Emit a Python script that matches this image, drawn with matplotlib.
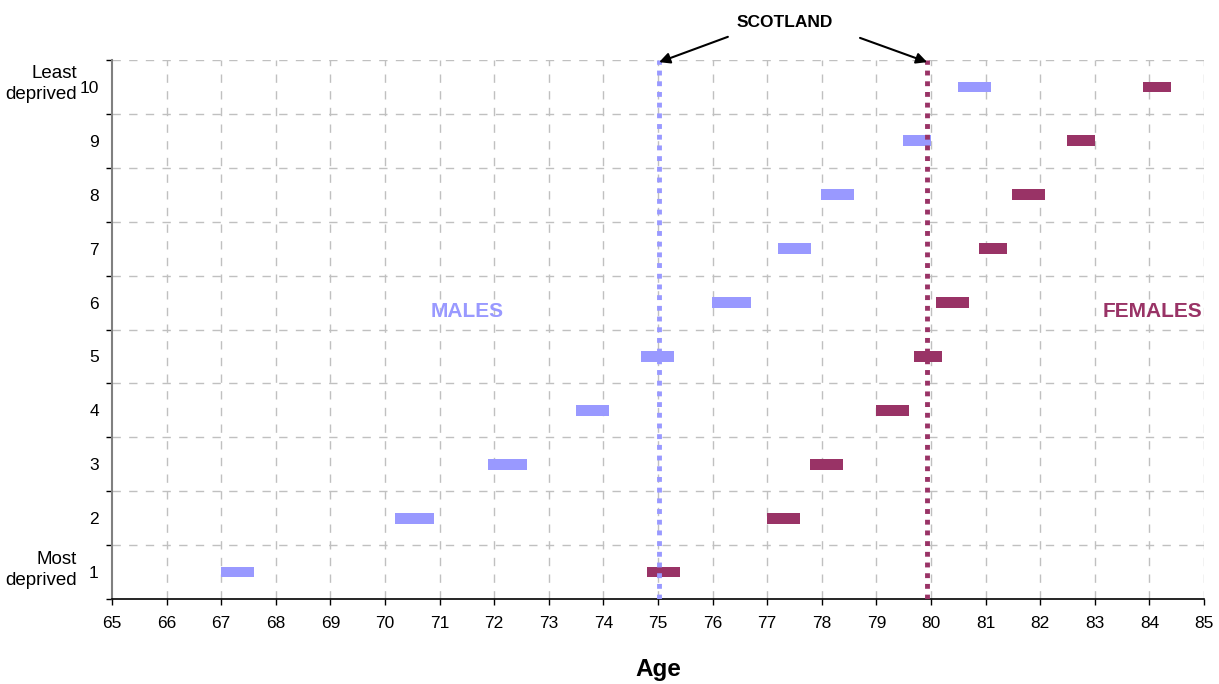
import matplotlib
matplotlib.use("Agg")
import matplotlib.pyplot as plt
from matplotlib.ticker import FixedLocator, NullFormatter, FixedFormatter

plt.rcParams['font.family'] = ['Liberation Sans', 'DejaVu Sans']

# Deprivation deciles (1 = most deprived, 10 = least deprived)
deciles = [1, 2, 3, 4, 5, 6, 7, 8, 9, 10]
decile_labels = ['1', '2', '3', '4', '5', '6', '7', '8', '9', '10']

# Life expectancy ranges (lower, upper) by decile
male_low = [67.00, 70.18, 71.89, 73.50, 74.69, 75.99, 77.20, 77.99, 79.49, 80.49]
male_high = [67.60, 70.90, 72.60, 74.10, 75.29, 76.70, 77.80, 78.59, 80.00, 81.10]
female_low = [74.80, 77.00, 77.78, 78.99, 79.69, 80.09, 80.88, 81.48, 82.49, 83.88]
female_high = [75.40, 77.60, 78.39, 79.60, 80.20, 80.70, 81.39, 82.09, 83.00, 84.40]

# National averages
scotland_male = 75.02
scotland_female = 79.93

age_ticks = list(range(65, 86))

male_color = '#9999FF'
female_color = '#993366'
grid_color = '#C0C0C0'

fig = plt.figure(figsize=(12.19, 6.84), dpi=100)
ax = fig.add_axes([112 / 1219, 85 / 684, 1092 / 1219, 539 / 684])

ax.set_xlim(65, 85)
ax.set_ylim(0.5, 10.5)

# Dashed grid: vertical at each year, horizontal between deciles
for x in age_ticks[1:]:
    ax.axvline(x, color=grid_color, lw=1.0, ls=(0, (6, 6)), zorder=0)
for y in [d + 0.5 for d in deciles]:
    ax.axhline(y, color=grid_color, lw=1.0, ls=(0, (6, 6)), zorder=0)

# Range bars
ax.barh(deciles, [h - l for l, h in zip(male_low, male_high)], left=male_low,
        height=0.2, color=male_color, zorder=2)
ax.barh(deciles, [h - l for l, h in zip(female_low, female_high)], left=female_low,
        height=0.2, color=female_color, zorder=2)

# Scotland reference lines
ax.plot([scotland_male, scotland_male], [0.5, 10.5], color=male_color, lw=3.5,
        ls=(0, (1.0, 1.2)), dash_capstyle='butt', zorder=3)
ax.plot([scotland_female, scotland_female], [0.5, 10.5], color=female_color, lw=3.5,
        ls=(0, (1.0, 1.2)), dash_capstyle='butt', zorder=3)

# Spines
for s in ['top', 'right']:
    ax.spines[s].set_visible(False)
ax.spines['left'].set_color('#808080')
ax.spines['left'].set_linewidth(1.5)
ax.spines['bottom'].set_color('black')
ax.spines['bottom'].set_linewidth(1.2)

# X axis ticks
ax.set_xticks(age_ticks)
ax.set_xticklabels([str(t) for t in age_ticks])
ax.tick_params(axis='x', direction='out', length=4, width=1, pad=8, labelsize=12.5)

# Y axis: tick marks at band boundaries, labels at band centres
ax.yaxis.set_major_locator(FixedLocator([d - 0.5 for d in deciles] + [10.5]))
ax.yaxis.set_major_formatter(NullFormatter())
ax.yaxis.set_minor_locator(FixedLocator(deciles))
ax.yaxis.set_minor_formatter(FixedFormatter(decile_labels))
ax.tick_params(axis='y', which='major', direction='out', length=4, width=1, color='black')
ax.tick_params(axis='y', which='minor', length=0, pad=9.5, labelsize=12.5)

ytr = ax.get_yaxis_transform()
ax.text(-0.032, 10.05, 'Least\ndeprived', transform=ytr, ha='right', va='center',
        multialignment='right', fontsize=13.5, linespacing=1.3)
ax.text(-0.032, 1.04, 'Most\ndeprived', transform=ytr, ha='right', va='center',
        multialignment='right', fontsize=13.5, linespacing=1.3)

# Series labels
ax.text(71.5, 5.83, 'MALES', color=male_color, fontsize=15, fontweight='bold',
        ha='center', va='center')
ax.text(84.05, 5.83, 'FEMALES', color=female_color, fontsize=15, fontweight='bold',
        ha='center', va='center', clip_on=False)

# Scotland annotation with arrows
ax.text(77.33, 11.2, 'SCOTLAND', fontsize=12.5, fontweight='bold', ha='center',
        va='center', clip_on=False)
arrow = dict(arrowstyle='-|>', color='black', lw=1.5, mutation_scale=16,
             shrinkA=0, shrinkB=0)
ax.annotate('', xy=(scotland_male, 10.46), xytext=(76.28, 10.93),
            arrowprops=arrow, annotation_clip=False)
ax.annotate('', xy=(scotland_female, 10.46), xytext=(78.70, 10.91),
            arrowprops=arrow, annotation_clip=False)

ax.set_xlabel('Age', fontsize=17.5, fontweight='bold', labelpad=20)

fig.savefig('out.png', dpi=100)
